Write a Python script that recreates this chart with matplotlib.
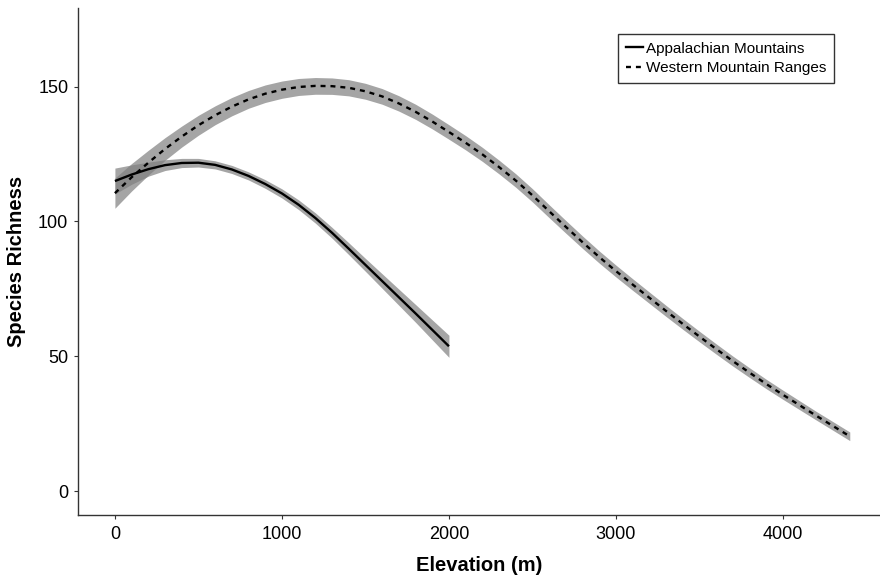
import matplotlib
matplotlib.use("Agg")
import matplotlib.pyplot as plt
from matplotlib.lines import Line2D

plt.rcParams['font.family'] = ['Liberation Sans', 'DejaVu Sans']

# Appalachian Mountains (fitted curve + CI half width)
app_elev = [0, 100, 200, 300, 400, 500, 600, 700, 800, 900, 1000,
            1100, 1200, 1300, 1400, 1500, 1600, 1700, 1800, 1900, 2000]
app_rich = [115.0, 117.4, 119.4, 120.9, 121.7, 121.8, 121.0, 119.3, 116.9, 113.9, 110.4,
            106.2, 101.3, 95.8, 89.9, 83.9, 77.9, 71.9, 65.9, 59.8, 53.7]
app_ci = [4.8, 3.6, 2.6, 2.0, 1.7, 1.6, 1.5, 1.5, 1.5, 1.6, 1.7,
          1.8, 1.9, 2.0, 2.2, 2.4, 2.7, 3.0, 3.3, 3.7, 4.1]

# Western Mountain Ranges
wst_elev = [0, 100, 200, 300, 400, 500, 600, 700, 800, 900, 1000,
            1100, 1200, 1300, 1400, 1500, 1600, 1700, 1800, 1900, 2000,
            2100, 2200, 2300, 2400, 2500, 2600, 2700, 2800, 2900, 3000,
            3100, 3200, 3300, 3400, 3500, 3600, 3700, 3800, 3900, 4000,
            4100, 4200, 4300, 4400]
wst_rich = [110.5, 116.4, 121.8, 126.9, 131.5, 135.7, 139.4, 142.6, 145.3, 147.4, 148.9,
            149.9, 150.3, 150.2, 149.6, 148.3, 146.4, 143.8, 140.7, 137.1, 133.2,
            129.2, 124.9, 120.2, 115.2, 109.7, 103.8, 98.0, 92.3, 86.8, 81.6,
            76.6, 71.7, 66.8, 62.0, 57.3, 52.7, 48.2, 43.9, 39.7, 35.7,
            31.8, 27.9, 24.1, 20.3]
wst_ci = [5.6, 5.1, 4.6, 4.2, 3.9, 3.7, 3.5, 3.4, 3.3, 3.25, 3.2,
          3.15, 3.1, 3.05, 3.0, 2.95, 2.9, 2.85, 2.8, 2.75, 2.7,
          2.65, 2.6, 2.55, 2.5, 2.45, 2.4, 2.35, 2.3, 2.25, 2.2,
          2.15, 2.1, 2.05, 2.0, 1.95, 1.9, 1.85, 1.8, 1.75, 1.7,
          1.65, 1.6, 1.6, 1.6]

series_names = ["Appalachian Mountains", "Western Mountain Ranges"]
x_ticks = [0, 1000, 2000, 3000, 4000]
y_ticks = [0, 50, 100, 150]

W, H = 880, 577
fig = plt.figure(figsize=(W / 100, H / 100), dpi=100)
ax = fig.add_axes([78 / W, 1 - 515 / H, (880 - 78) / W, (515 - 8) / H])

band_color = '#7f7f7f'
band_alpha = 0.7
line_w = 1.7

lo = [r - c for r, c in zip(app_rich, app_ci)]
hi = [r + c for r, c in zip(app_rich, app_ci)]
ax.fill_between(app_elev, lo, hi, color=band_color, alpha=band_alpha, lw=0)
ax.plot(app_elev, app_rich, color='black', lw=line_w, solid_capstyle='butt',
        solid_joinstyle='round')

lo = [r - c for r, c in zip(wst_rich, wst_ci)]
hi = [r + c for r, c in zip(wst_rich, wst_ci)]
ax.fill_between(wst_elev, lo, hi, color=band_color, alpha=band_alpha, lw=0)
ax.plot(wst_elev, wst_rich, color='black', lw=line_w, dashes=(2.1, 2.1),
        dash_capstyle='butt')

ax.set_xlim(-221, 4581)
ax.set_ylim(-8.9, 179.2)
ax.set_xticks(x_ticks)
ax.set_yticks(y_ticks)
ax.tick_params(axis='both', labelsize=13, length=3, width=0.8, color='#333333',
               labelcolor='black')
ax.tick_params(axis='y', pad=4)
ax.tick_params(axis='x', pad=5)

for s in ['top', 'right']:
    ax.spines[s].set_visible(False)
for s in ['left', 'bottom']:
    ax.spines[s].set_color('#333333')
    ax.spines[s].set_linewidth(1.0)

ax.set_xlabel("Elevation (m)", fontsize=14.5, fontweight='bold', labelpad=9)
ax.set_ylabel("Species Richness", fontsize=14.5, fontweight='bold', labelpad=8.5)

handles = [Line2D([], [], color='black', lw=line_w),
           Line2D([], [], color='black', lw=line_w, dashes=(2.1, 2.1))]
leg = ax.legend(handles, series_names, loc='upper right',
                bbox_to_anchor=((834 - 78) / 802, (515 - 34) / 507),
                borderaxespad=0, fontsize=11, handlelength=1.1, handletextpad=0.2,
                labelspacing=0.35, borderpad=0.5, fancybox=False, frameon=True)
leg.get_frame().set_edgecolor('black')
leg.get_frame().set_linewidth(1.0)

fig.savefig("out.png", dpi=100)
